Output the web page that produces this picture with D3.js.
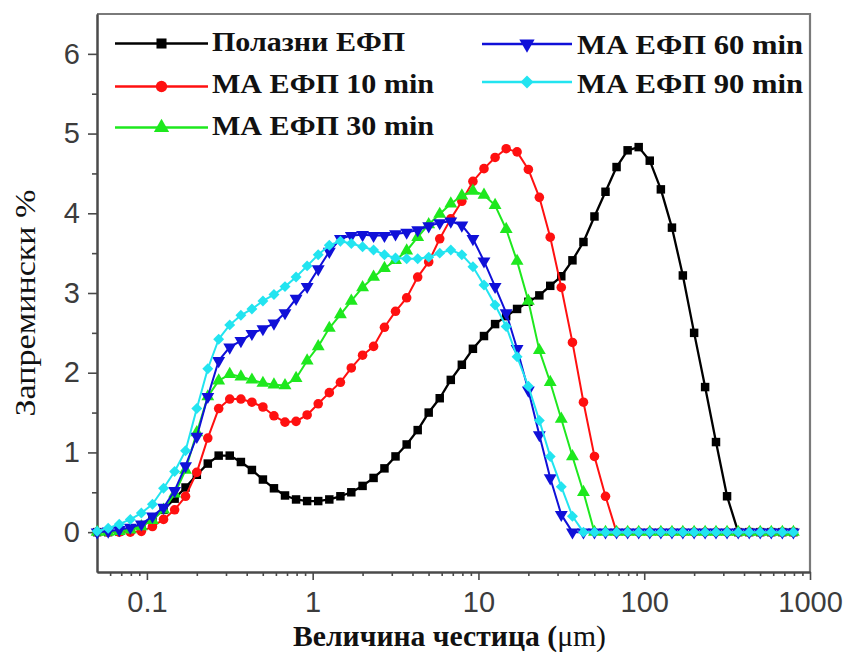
<!DOCTYPE html>
<html>
<head>
<meta charset="utf-8">
<script src="https://cdn.jsdelivr.net/npm/d3@7"></script>
<style>
  html, body { margin: 0; padding: 0; background: #fff; }
  svg { display: block; }
</style>
</head>
<body>
<svg id="chart" width="851" height="652"></svg>
<script>
// Particle size classes (µm), log-spaced
const sizes = [0.0501, 0.0584, 0.0681, 0.0794, 0.0926, 0.108, 0.126, 0.147, 0.171, 0.200,
  0.233, 0.271, 0.316, 0.369, 0.430, 0.501, 0.584, 0.681, 0.794, 0.926,
  1.08, 1.26, 1.47, 1.71, 2.00, 2.33, 2.71, 3.16, 3.69, 4.30,
  5.01, 5.84, 6.81, 7.94, 9.26, 10.8, 12.6, 14.7, 17.1, 20.0,
  23.3, 27.1, 31.6, 36.9, 43.0, 50.1, 58.4, 68.1, 79.4, 92.6,
  108, 126, 147, 171, 200, 233, 271, 316, 369, 430,
  501, 584, 681, 794];

// Volume % per size class
const initialEFP = [0, 0, 0.01, 0.03, 0.08, 0.17, 0.28, 0.42, 0.56, 0.72,
  0.86, 0.96, 0.96, 0.88, 0.78, 0.66, 0.55, 0.46, 0.41, 0.39,
  0.39, 0.41, 0.45, 0.50, 0.58, 0.68, 0.80, 0.95, 1.10, 1.28,
  1.50, 1.68, 1.91, 2.10, 2.30, 2.46, 2.61, 2.71, 2.80, 2.89,
  2.97, 3.09, 3.21, 3.41, 3.64, 3.96, 4.27, 4.58, 4.79, 4.83,
  4.66, 4.30, 3.82, 3.22, 2.50, 1.82, 1.13, 0.45, 0, 0,
  0, 0, 0, 0];
const ma10 = [0, 0, 0, 0, 0.01, 0.07, 0.16, 0.28, 0.45, 0.75,
  1.18, 1.55, 1.67, 1.67, 1.63, 1.57, 1.46, 1.38, 1.39, 1.47,
  1.61, 1.75, 1.88, 2.06, 2.22, 2.33, 2.57, 2.77, 2.94, 3.20,
  3.39, 3.68, 3.93, 4.15, 4.40, 4.56, 4.70, 4.81, 4.77, 4.55,
  4.20, 3.70, 3.07, 2.38, 1.63, 0.95, 0.45, 0, 0, 0,
  0, 0, 0, 0, 0, 0, 0, 0, 0, 0,
  0, 0, 0, 0];
const ma30 = [0, 0, 0.01, 0.03, 0.07, 0.15, 0.28, 0.48, 0.78, 1.25,
  1.70, 1.90, 1.98, 1.95, 1.91, 1.87, 1.85, 1.84, 1.93, 2.15,
  2.33, 2.56, 2.73, 2.90, 3.07, 3.20, 3.31, 3.41, 3.53, 3.70,
  3.86, 3.99, 4.12, 4.22, 4.28, 4.23, 4.10, 3.80, 3.40, 2.90,
  2.28, 1.88, 1.42, 0.95, 0.50, 0, 0, 0, 0, 0,
  0, 0, 0, 0, 0, 0, 0, 0, 0, 0,
  0, 0, 0, 0];
const ma60 = [0, 0.01, 0.03, 0.06, 0.10, 0.20, 0.31, 0.52, 0.83, 1.20,
  1.70, 2.15, 2.32, 2.40, 2.49, 2.55, 2.62, 2.75, 2.93, 3.08,
  3.30, 3.52, 3.68, 3.72, 3.73, 3.72, 3.72, 3.74, 3.76, 3.79,
  3.84, 3.88, 3.90, 3.85, 3.68, 3.40, 3.08, 2.75, 2.30, 1.78,
  1.22, 0.68, 0.22, 0, 0, 0, 0, 0, 0, 0,
  0, 0, 0, 0, 0, 0, 0, 0, 0, 0,
  0, 0, 0, 0];
const ma90 = [0.01, 0.05, 0.10, 0.16, 0.24, 0.35, 0.55, 0.76, 1.02, 1.55,
  2.05, 2.42, 2.60, 2.72, 2.80, 2.90, 2.98, 3.08, 3.20, 3.34,
  3.48, 3.60, 3.65, 3.62, 3.58, 3.54, 3.48, 3.44, 3.43, 3.43,
  3.45, 3.50, 3.54, 3.48, 3.33, 3.10, 2.85, 2.58, 2.20, 1.83,
  1.40, 0.95, 0.57, 0.20, 0, 0, 0, 0, 0, 0,
  0, 0, 0, 0, 0, 0, 0, 0, 0, 0,
  0, 0, 0, 0];

const seriesNames = ["Полазни ЕФП", "МА ЕФП 10 min", "МА ЕФП 30 min", "МА ЕФП 60 min", "МА ЕФП 90 min"];
const xTickValues = [0.1, 1, 10, 100, 1000];
const xTickLabels = ["0.1", "1", "10", "100", "1000"];
const yTickValues = [0, 1, 2, 3, 4, 5, 6];
const yTickLabels = ["0", "1", "2", "3", "4", "5", "6"];
const xTitle = "Величина честица (";
const xTitleUnit = "μm)";
const yTitle = "Запремински %";

(function draw() {
  // Drawing styles for each series
  const styles = [
    { values: initialEFP, color: "#000000", symbol: d3.symbolSquare, size: 72, rotate: 0, width: 2.3 },
    { values: ma10, color: "#ff1010", symbol: d3.symbolCircle, size: 72, rotate: 0, width: 2 },
    { values: ma30, color: "#1ee81e", symbol: d3.symbolTriangle, size: 72, rotate: 0, width: 2 },
    { values: ma60, color: "#1010d8", symbol: d3.symbolTriangle, size: 72, rotate: 180, width: 2 },
    { values: ma90, color: "#22e4f0", symbol: d3.symbolSquare, size: 60, rotate: 45, width: 2 }
  ];

  const svg = d3.select("#chart");
  const plotLeft = 97, plotRight = 810, plotTop = 14, plotBottom = 572;

  const x = d3.scaleLog().domain([0.05, 1000]).range([plotLeft, plotRight]);
  const y = d3.scaleLinear().domain([-0.5, 6.5]).range([plotBottom, plotTop]);

  const tickFont = "'Liberation Sans', Arial, sans-serif";
  const serifFont = "'Liberation Serif', 'Times New Roman', serif";

  // Plot frame (top and right edges)
  svg.append("path")
    .attr("d", `M${plotLeft},${plotTop}H${plotRight}V${plotBottom}`)
    .attr("fill", "none")
    .attr("stroke", "#7a7a7a")
    .attr("stroke-width", 2.2);

  // Minor tick positions
  const xMinor = [];
  for (let e = -2; e <= 2; e++) {
    for (let m = 2; m <= 9; m++) {
      const v = m * Math.pow(10, e);
      if (v > 0.05 && v < 1000) xMinor.push(v);
    }
  }
  const yMinor = [0.5, 1.5, 2.5, 3.5, 4.5, 5.5];

  // Bottom axis
  const xAxisMinor = svg.append("g").attr("transform", `translate(0,${plotBottom})`)
    .call(d3.axisBottom(x).tickValues(xMinor).tickSize(4).tickSizeOuter(0).tickFormat(""));
  const xAxis = svg.append("g").attr("transform", `translate(0,${plotBottom})`)
    .call(d3.axisBottom(x).tickValues(xTickValues).tickSize(8).tickSizeOuter(0).tickPadding(11.5)
      .tickFormat((d, i) => xTickLabels[i]));

  // Left axis
  const yAxisMinor = svg.append("g").attr("transform", `translate(${plotLeft},0)`)
    .call(d3.axisLeft(y).tickValues(yMinor).tickSize(5).tickSizeOuter(0).tickFormat(""));
  const yAxis = svg.append("g").attr("transform", `translate(${plotLeft},0)`)
    .call(d3.axisLeft(y).tickValues(yTickValues).tickSize(9).tickSizeOuter(0).tickPadding(8)
      .tickFormat((d, i) => yTickLabels[i]));

  [xAxisMinor, xAxis, yAxisMinor, yAxis].forEach(g => {
    g.select(".domain").attr("stroke", "#4a4a4a").attr("stroke-width", 2);
    g.selectAll(".tick line").attr("stroke", "#4a4a4a").attr("stroke-width", 1.6);
    g.selectAll(".tick text")
      .attr("font-family", tickFont)
      .attr("font-size", 29)
      .attr("fill", "#3c3c3c");
  });

  // Series lines and markers
  const line = d3.line()
    .x((d, i) => x(sizes[i]))
    .y(d => y(d));

  styles.forEach(s => {
    const g = svg.append("g");
    g.append("path")
      .datum(s.values)
      .attr("d", line)
      .attr("fill", "none")
      .attr("stroke", s.color)
      .attr("stroke-width", s.width)
      .attr("stroke-linejoin", "round");
    const sym = d3.symbol().type(s.symbol).size(s.size);
    g.selectAll("path.marker")
      .data(s.values)
      .join("path")
      .attr("class", "marker")
      .attr("d", sym)
      .attr("fill", s.color)
      .attr("transform", (d, i) => `translate(${x(sizes[i])},${y(d)}) rotate(${s.rotate})`);
  });

  // Legend
  const legendRows = [
    { x0: 115, x1: 208, tx: 212, ly: 43.5, by: 51, w: 193 },
    { x0: 115, x1: 208, tx: 212, ly: 86.5, by: 93, w: 222 },
    { x0: 115, x1: 208, tx: 212, ly: 127.5, by: 134.5, w: 222 },
    { x0: 482, x1: 572, tx: 577, ly: 44, by: 54, w: 226 },
    { x0: 482, x1: 572, tx: 577, ly: 82, by: 92.5, w: 226 }
  ];
  legendRows.forEach((r, i) => {
    const s = styles[i];
    const g = svg.append("g");
    g.append("line")
      .attr("x1", r.x0).attr("x2", r.x1)
      .attr("y1", r.ly).attr("y2", r.ly)
      .attr("stroke", s.color).attr("stroke-width", 2.6);
    g.append("path")
      .attr("d", d3.symbol().type(s.symbol).size(s.size * 1.4))
      .attr("fill", s.color)
      .attr("transform", `translate(${(r.x0 + r.x1) / 2},${r.ly}) rotate(${s.rotate})`);
    g.append("text")
      .attr("x", r.tx).attr("y", r.by)
      .attr("font-family", serifFont)
      .attr("font-weight", "bold")
      .attr("font-size", 28)
      .attr("textLength", r.w)
      .attr("lengthAdjust", "spacingAndGlyphs")
      .attr("fill", "#111")
      .text(seriesNames[i]);
  });

  // Axis titles
  const xt = svg.append("text")
    .attr("x", 293).attr("y", 646)
    .attr("font-family", serifFont)
    .attr("font-size", 30)
    .attr("textLength", 313)
    .attr("lengthAdjust", "spacingAndGlyphs")
    .attr("fill", "#111");
  xt.append("tspan").attr("font-weight", "bold").text(xTitle);
  xt.append("tspan").attr("font-weight", "normal").text(xTitleUnit);

  svg.append("text")
    .attr("transform", "translate(35,303) rotate(-90)")
    .attr("text-anchor", "middle")
    .attr("font-family", serifFont)
    .attr("font-size", 30)
    .attr("textLength", 227)
    .attr("lengthAdjust", "spacingAndGlyphs")
    .attr("fill", "#111")
    .text(yTitle);
})();
</script>
</body>
</html>
